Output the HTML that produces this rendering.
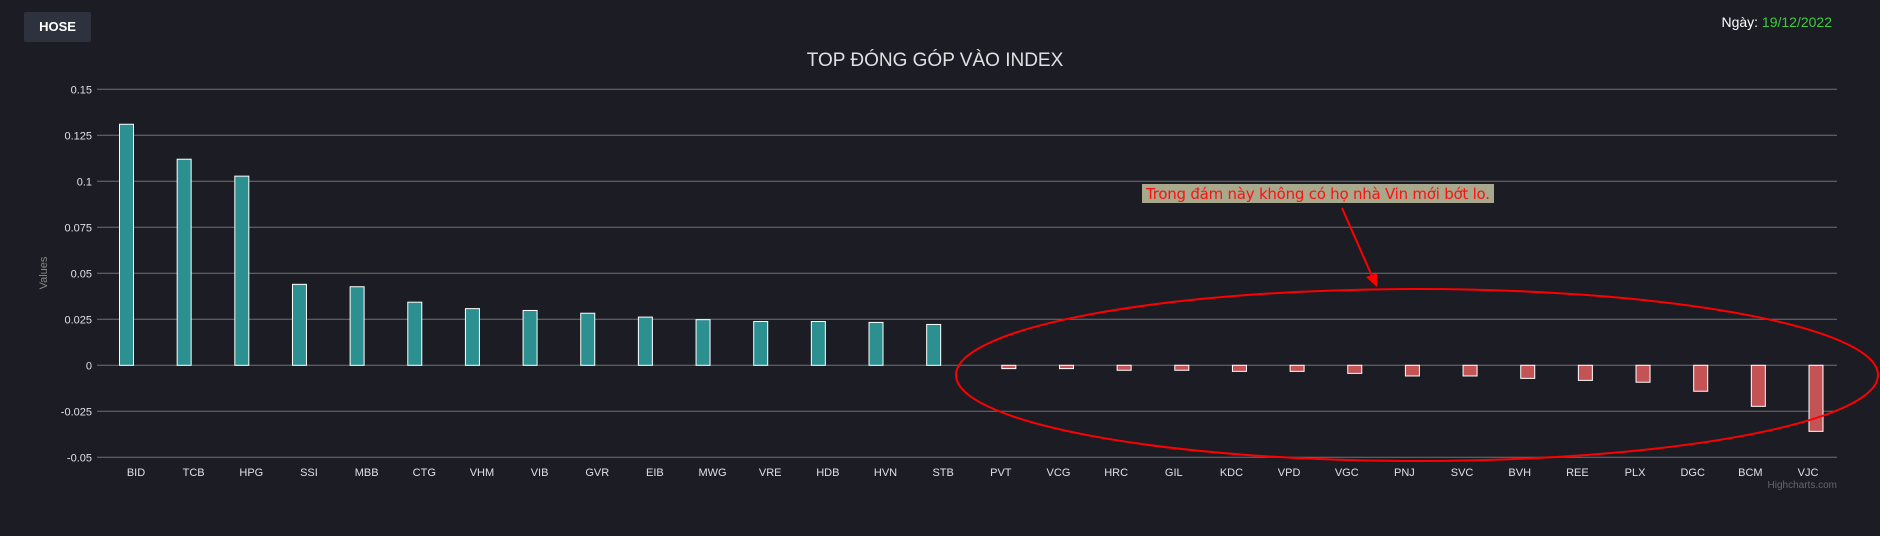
<!DOCTYPE html>
<html><head><meta charset="utf-8">
<style>
html,body{margin:0;padding:0;background:#1c1c25;width:1880px;height:536px;overflow:hidden;font-family:"Liberation Sans","DejaVu Sans",sans-serif;}
#hose{position:absolute;left:24px;top:12px;width:67px;height:30px;background:#2d323e;border-radius:2px;color:#fff;font-weight:bold;font-size:13px;line-height:30px;text-align:center;}
#date{position:absolute;right:48px;top:14px;font-size:14px;color:#fff;}
#date span{color:#3ccc3c;}
svg{position:absolute;left:0;top:0;}
</style></head><body>
<div id="hose">HOSE</div>
<div id="date">Ngày: <span>19/12/2022</span></div>
<svg id="chart" width="1880" height="536"></svg>
<script>
const categories=["BID","TCB","HPG","SSI","MBB","CTG","VHM","VIB","GVR","EIB","MWG","VRE","HDB","HVN","STB","PVT","VCG","HRC","GIL","KDC","VPD","VGC","PNJ","SVC","BVH","REE","PLX","DGC","BCM","VJC"];
const values=[0.131,0.112,0.1028,0.044,0.0427,0.0343,0.0308,0.0298,0.0283,0.0262,0.0248,0.0238,0.0238,0.0233,0.0222,-0.0018,-0.0018,-0.0027,-0.0027,-0.0033,-0.0033,-0.0044,-0.0058,-0.0058,-0.0071,-0.0082,-0.0092,-0.0141,-0.0223,-0.0359];
const yTicks=[0.15,0.125,0.1,0.075,0.05,0.025,0,-0.025,-0.05];
const yTickLabels=["0.15","0.125","0.1","0.075","0.05","0.025","0","-0.025","-0.05"];
const NS="http://www.w3.org/2000/svg";
const svg=document.getElementById('chart');
const plotL=97,plotR=1837;
function y(v){return 365.3-(v/0.025)*46;}
function xc(i){return 136+i*(1808-136)/(categories.length-1);}
function mk(t,a,txt){const e=document.createElementNS(NS,t);for(const k in a)e.setAttribute(k,a[k]);if(txt!==undefined)e.textContent=txt;svg.appendChild(e);return e;}
let t=mk('text',{x:935,y:66,'text-anchor':'middle','font-size':19,fill:'#e0e0e3'},'TOP ĐÓNG GÓP VÀO INDEX');


yTicks.forEach((v,i)=>{
  const g=mk('line',{x1:plotL,x2:plotR,y1:y(v),y2:y(v),stroke:'#707073','stroke-width':1});
  
  
  const l=mk('text',{x:92,y:y(v)+4,'text-anchor':'end','font-size':11,fill:'#e0e0e3'},yTickLabels[i]);
  
  
});
t=mk('text',{x:0,y:0,transform:'translate(47,273) rotate(-90)','text-anchor':'middle','font-size':11,fill:'#888'},'Values');


categories.forEach((c,i)=>{
  const v=values[i];
  const pos=v>=0;
  const cx=xc(i)+(pos?-9.5:8);
  const top=Math.min(y(v),y(0)),h=Math.abs(y(v)-y(0));
  const r=mk('rect',{x:cx-7,y:top,width:14,height:Math.max(h,1),fill:pos?'#2b908f':'#c45356',stroke:'#fff','stroke-width':1});
  
  
  const l=mk('text',{x:xc(i),y:476,'text-anchor':'middle','font-size':11,fill:'#e0e0e3'},c);
  
  
});
t=mk('text',{x:1837,y:488,'text-anchor':'end','font-size':10,fill:'#666'},'Highcharts.com');


let e=mk('ellipse',{cx:1417,cy:375,rx:461,ry:86,fill:'none',stroke:'#ff0000','stroke-width':2});


e=mk('line',{x1:1342,y1:208,x2:1372,y2:276,stroke:'#ff0000','stroke-width':2});


e=mk('polygon',{points:'1377,287 1366,277 1377,273',fill:'#ff0000'});


e=mk('rect',{x:1142,y:184,width:352,height:19,fill:'#a8a88c'});


e=mk('text',{x:1146,y:199,'font-size':15,fill:'#ff1010','font-family':'"DejaVu Sans",sans-serif',textLength:344},'Trong đám này không có họ nhà Vin mới bớt lo.');


</script>
</body></html>
